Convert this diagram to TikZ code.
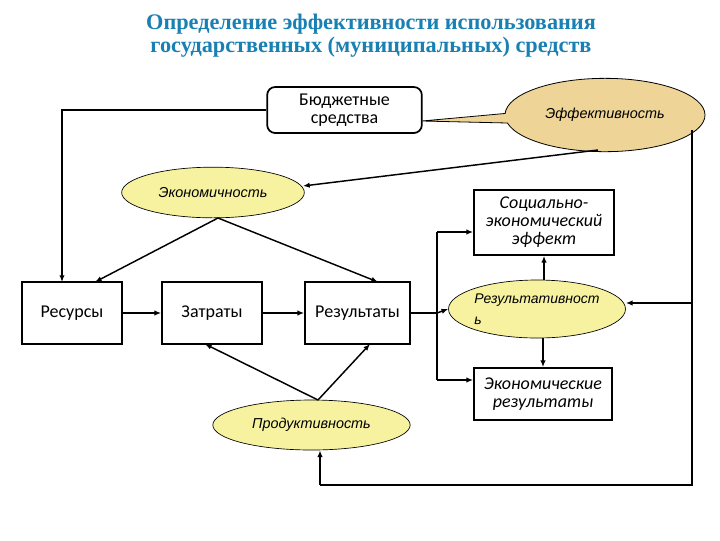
\documentclass[tikz,border=0pt]{standalone}
\usepackage{fontspec}
\setmainfont{Carlito}
\newfontfamily\titlefont{Liberation Serif}
\newfontfamily\itfont{Liberation Sans}
\usetikzlibrary{arrows.meta,shapes.geometric,shapes.callouts,calc}
\definecolor{titleblue}{RGB}{25,128,180}
\definecolor{ellyellow}{RGB}{247,242,160}
\definecolor{efftan}{RGB}{238,212,150}
\begin{document}
\begin{tikzpicture}[x=0.75pt,y=-0.75pt,
  box/.style={draw,line width=1.3pt,fill=white,inner sep=1pt,align=center,font=\fontsize{13.5}{13.5}\selectfont},
  ell/.style={ellipse,draw,line width=0.5pt,fill=ellyellow,inner sep=0pt,align=center,font=\itfont\itshape\fontsize{10.8}{12}\selectfont},
  conn/.style={line width=1.1pt},
  arr/.style={conn,-{Latex[length=5pt,width=4pt]}}]
\useasboundingbox (0,0) rectangle (720,540);
\fill[white] (0,0) rectangle (720,540);
% title
\node[font=\titlefont\bfseries\fontsize{16.7}{17.5}\selectfont,text=titleblue,align=center] (title) at (371,36)
 {Определение эффективности использования\\ государственных (муниципальных) средств};
% nodes
\node[box,rounded corners=6pt,minimum width=116pt,minimum height=34.5pt] (budget) at (344.5,110) {Бюджетные\\средства};
\node[ellipse callout,draw,line width=0.6pt,fill=efftan,minimum width=150pt,minimum height=55pt,
  callout absolute pointer={(422,121)},font=\itfont\itshape\fontsize{10.8}{12}\selectfont] (eff) at (605,115) {Эффективность};
\node[ell,minimum width=137pt,minimum height=38pt] (econ) at (213,192.5) {Экономичность};
\node[box,minimum width=75pt,minimum height=46.5pt] (res) at (72,313) {Ресурсы};
\node[box,minimum width=75pt,minimum height=46.5pt] (zat) at (212,313) {Затраты};
\node[box,minimum width=78.75pt,minimum height=46.5pt] (rez) at (357.5,313) {Результаты};
\node[box,minimum width=105pt,minimum height=48.75pt,font=\itshape\fontsize{13.5}{13.5}\selectfont] (soc) at (544,222.5) {Социально-\\экономический\\эффект};
\node[ell,minimum width=131pt,minimum height=43.5pt,align=left,font=\itfont\itshape\fontsize{10.5}{16}\selectfont] (rzt) at (537,309) {Результативност\\ь};
\node[box,minimum width=103.5pt,minimum height=39pt,font=\itshape\fontsize{13.5}{14}\selectfont] (ecr) at (543,394) {Экономические\\результаты};
\node[ell,minimum width=148pt,minimum height=37.5pt] (prod) at (311.5,425) {Продуктивность};
% helper coordinates
\coordinate (resA) at (62,282);
\coordinate (resB) at (95,282);
\coordinate (rezT) at (378,282);
\coordinate (econB) at (218,218);
\coordinate (effB) at (598,150);
\coordinate (econE) at (303,186);
\coordinate (split) at (437,313);
\coordinate (splitT) at (437,232);
\coordinate (splitB) at (437,380);
\coordinate (effR) at (692,130);
\coordinate (rtR) at (692,303);
\coordinate (rtL) at (692,485);
\coordinate (prodB) at (320,485);
\coordinate (prodN) at (318,400);
\coordinate (zatB) at (205,344);
\coordinate (rezB) at (370,344);
% connectors
\draw[arr] (budget.west) -| (resA);
\draw[arr] (effB) -- (econE);
\draw[arr] (econB) -- (resB);
\draw[arr] (econB) -- (rezT);
\draw[arr] (res.east) -- (zat.west);
\draw[arr] (zat.east) -- (rez.west);
\draw[conn] (rez.east) -- (split);
\draw[conn] (splitT) -- (splitB);
\draw[arr] (splitT) -- (splitT -| soc.west);
\draw[arr] (split) -- (rzt.west);
\draw[arr] (splitB) -- (splitB -| ecr.west);
\draw[arr] (soc.south |- rzt.north) -- (soc.south);
\draw[arr] (ecr.north |- rzt.south) -- (ecr.north);
\draw[conn] (effR) -- (rtL) -- (prodB);
\draw[arr] (prodB) -- (prod.south -| prodB);
\draw[arr] (rtR) -- (rzt.east |- rtR);
\draw[arr] (prodN) -- (zatB);
\draw[arr] (prodN) -- (rezB);
\end{tikzpicture}
\end{document}
